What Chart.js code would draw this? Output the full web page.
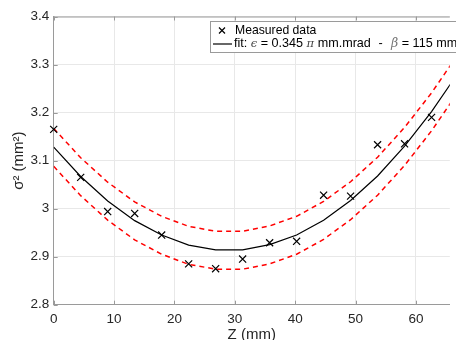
<!DOCTYPE html>
<html>
<head>
<meta charset="utf-8">
<script src="https://cdn.jsdelivr.net/npm/chart.js@4/dist/chart.umd.min.js"></script>
<style>
  html, body { margin: 0; padding: 0; background: #fff; overflow: hidden; }
  #wrap { width: 456px; height: 340px; position: relative; }
</style>
</head>
<body>
<div id="wrap"><canvas id="c" width="456" height="340"></canvas></div>
<script>
// ---- data ----
const zMeasured = [0, 4.47, 8.94, 13.41, 17.88, 22.35, 26.82, 31.29, 35.76, 40.23, 44.70, 49.17, 53.64, 58.11, 62.58];
const sigma2Measured = [3.165, 3.065, 2.994, 2.990, 2.945, 2.885, 2.875, 2.895, 2.929, 2.932, 3.028, 3.026, 3.133, 3.135, 3.190];
const zFit = [0, 4.47, 8.94, 13.41, 17.88, 22.35, 26.82, 31.29, 35.76, 40.23, 44.70, 49.17, 53.64, 58.11, 62.58, 67.05];
const sigma2Fit = [3.128, 3.067, 3.016, 2.975, 2.945, 2.924, 2.914, 2.914, 2.925, 2.945, 2.976, 3.017, 3.068, 3.130, 3.202, 3.284];
const sigma2Upper = [3.167, 3.106, 3.055, 3.014, 2.984, 2.963, 2.953, 2.953, 2.964, 2.984, 3.015, 3.056, 3.107, 3.169, 3.241, 3.323];
const sigma2Lower = [3.088, 3.027, 2.976, 2.935, 2.905, 2.884, 2.874, 2.874, 2.885, 2.905, 2.936, 2.977, 3.028, 3.090, 3.162, 3.244];
const xTicks = [0, 10, 20, 30, 40, 50, 60];
const yTicks = [2.8, 2.9, 3.0, 3.1, 3.2, 3.3, 3.4];
const yTickLabels = ["2.8", "2.9", "3", "3.1", "3.2", "3.3", "3.4"];
const legendLabels = ["Measured data", "fit"];

const pts = (xs, ys) => xs.map((x, i) => ({x: x, y: ys[i]}));

const FONT = "'Liberation Sans', Arial, Helvetica, sans-serif";
const AXIS_COL = '#9a9a9a';
const TEXT_COL = '#262626';

const boxPlugin = {
  id: 'boxPlugin',
  afterDraw(chart) {
    const ctx = chart.ctx;
    const a = chart.chartArea;
    const xs = chart.scales.x, ys = chart.scales.y;
    ctx.save();
    // top border
    ctx.strokeStyle = AXIS_COL;
    ctx.lineWidth = 1;
    ctx.beginPath();
    ctx.moveTo(a.left, a.top + 0.5);
    ctx.lineTo(a.right, a.top + 0.5);
    ctx.stroke();
    // inward tick marks
    ctx.beginPath();
    xTicks.forEach(v => {
      const px = Math.round(xs.getPixelForValue(v)) + 0.5;
      ctx.moveTo(px, a.bottom); ctx.lineTo(px, a.bottom - 4);
      ctx.moveTo(px, a.top); ctx.lineTo(px, a.top + 4);
    });
    yTicks.forEach(v => {
      const py = Math.round(ys.getPixelForValue(v)) + 0.5;
      ctx.moveTo(a.left, py); ctx.lineTo(a.left + 4, py);
    });
    ctx.stroke();

    // legend box
    const bx = 210.5, by = 21.5, bw = 260, bh = 31;
    ctx.fillStyle = '#fff';
    ctx.fillRect(bx, by, bw, bh);
    ctx.strokeStyle = AXIS_COL;
    ctx.strokeRect(bx, by, bw, bh);

    const r1 = 30.5, r2 = 44;
    // marker
    ctx.strokeStyle = '#000';
    ctx.lineWidth = 1.2;
    ctx.beginPath();
    ctx.moveTo(219, r1 - 3); ctx.lineTo(225, r1 + 3);
    ctx.moveTo(219, r1 + 3); ctx.lineTo(225, r1 - 3);
    ctx.stroke();
    // line sample
    ctx.beginPath();
    ctx.moveTo(213, r2); ctx.lineTo(232, r2);
    ctx.stroke();

    ctx.textBaseline = 'middle';
    ctx.textAlign = 'left';
    ctx.fillStyle = '#000';
    ctx.font = '12.2px ' + FONT;
    ctx.fillText(legendLabels[0], 235, r1);

    // row 2 with mixed styles
    const F = '12.6px ' + FONT;
    const segs = [
      {t: legendLabels[1] + ': ', f: F, c: '#000'},
      {t: 'ϵ', f: 'italic 11.5px "DejaVu Serif", serif', c: '#444'},
      {t: ' = 0.345 ', f: F, c: '#000'},
      {t: 'π', f: 'italic 11.5px "DejaVu Serif", serif', c: '#444'},
      {t: ' mm.mrad', f: F, c: '#000'},
      {t: '-', f: F, c: '#000', at: 378.5},
      {t: 'β', f: 'italic 12.5px "DejaVu Serif", serif', c: '#777', at: 391},
      {t: ' = 115 mm', f: F, c: '#000'}
    ];
    let x = 234;
    segs.forEach(s => {
      if (s.at !== undefined) x = s.at;
      ctx.font = s.f;
      ctx.fillStyle = s.c;
      ctx.fillText(s.t, x, r2);
      x += ctx.measureText(s.t).width;
    });
    ctx.restore();
  }
};

new Chart(document.getElementById('c'), {
  type: 'scatter',
  data: {
    datasets: [
      {
        label: 'Measured data',
        data: pts(zMeasured, sigma2Measured),
        showLine: false,
        pointStyle: 'crossRot',
        pointRadius: 5,
        pointBorderWidth: 1.2,
        borderColor: '#000',
        backgroundColor: '#000',
        clip: false,
        order: 0
      },
      {
        label: 'fit',
        data: pts(zFit, sigma2Fit),
        showLine: true,
        pointRadius: 0,
        borderColor: '#000',
        borderWidth: 1.2,
        tension: 0,
        order: 1
      },
      {
        label: 'upper',
        data: pts(zFit, sigma2Upper),
        showLine: true,
        pointRadius: 0,
        borderColor: '#ff0000',
        borderWidth: 1.5,
        borderDash: [5, 4],
        tension: 0,
        order: 2
      },
      {
        label: 'lower',
        data: pts(zFit, sigma2Lower),
        showLine: true,
        pointRadius: 0,
        borderColor: '#ff0000',
        borderWidth: 1.5,
        borderDash: [5, 4],
        tension: 0,
        order: 2
      }
    ]
  },
  options: {
    responsive: false,
    animation: false,
    layout: { padding: { top: 16.5, right: 0, left: 0, bottom: 0 } },
    plugins: { legend: { display: false }, tooltip: { enabled: false } },
    scales: {
      x: {
        type: 'linear',
        min: 0,
        max: 65.6,
        afterFit: s => { s.height = 35.3; },
        afterBuildTicks: s => { s.ticks = xTicks.map(v => ({value: v})); },
        grid: { color: '#e8e8e8', drawTicks: false },
        border: { color: AXIS_COL, width: 1 },
        ticks: { color: TEXT_COL, font: { family: FONT, size: 13.5 }, padding: 6, maxRotation: 0 },
        title: { display: true, text: 'Z (mm)', color: TEXT_COL, font: { family: FONT, size: 15, lineHeight: 0.7 }, padding: 0 }
      },
      y: {
        type: 'linear',
        min: 2.8,
        max: 3.4,
        afterFit: s => { s.width = 53.7; },
        afterBuildTicks: s => { s.ticks = yTicks.map(v => ({value: v})); },
        grid: { color: '#e8e8e8', drawTicks: false },
        border: { color: AXIS_COL, width: 1 },
        ticks: {
          color: TEXT_COL, font: { family: FONT, size: 13.5 }, padding: 4.4,
          callback: (v) => { const i = yTicks.findIndex(t => Math.abs(t - v) < 1e-9); return i >= 0 ? yTickLabels[i] : ''; }
        },
        title: { display: true, text: 'σ² (mm²)', color: TEXT_COL, font: { family: FONT, size: 15, lineHeight: 1.2 }, padding: { top: 10, bottom: 0 } }
      }
    }
  },
  plugins: [boxPlugin]
});
</script>
</body>
</html>
